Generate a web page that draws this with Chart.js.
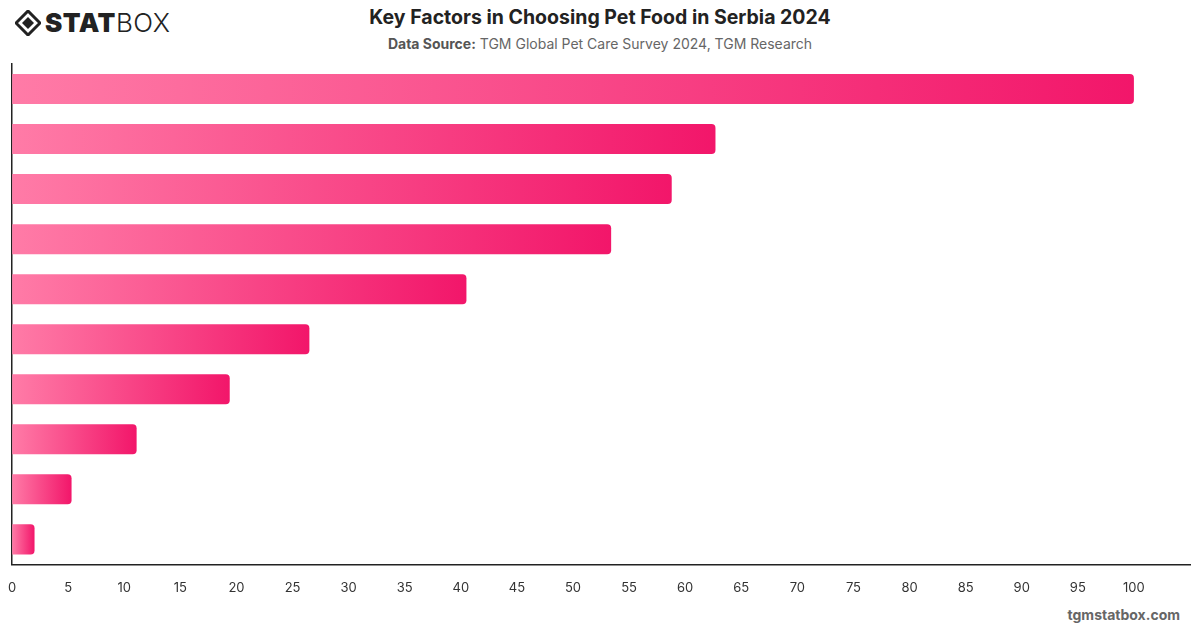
<!DOCTYPE html>
<html>
<head>
<meta charset="utf-8">
<script src="https://cdn.jsdelivr.net/npm/chart.js@4"></script>
<style>
  html, body { margin: 0; padding: 0; background: #fff; }
  body { width: 1200px; height: 628px; position: relative; overflow: hidden; font-family: Inter, "Noto Sans", sans-serif; }
  #grafico { position: absolute; left: 0; top: 0; }
  .logo { position: absolute; left: 15px; top: 7px; display: flex; align-items: center; color: #222; }
  .logo .stat { font-weight: 900; font-size: 26px; letter-spacing: 0.5px; margin-left: 4px; }
  .logo .box { font-weight: 300; font-size: 26px; letter-spacing: 0.5px; }
  .titulo { position: absolute; left: 0; width: 1200px; top: 5px; text-align: center; font-size: 19.5px; font-weight: 700; color: #222; }
  .fonte { position: absolute; left: 0; width: 1200px; top: 35px; text-align: center; font-size: 14px; color: #666; }
  .fonte b { color: #555; }
  .rodape { position: absolute; right: 20px; top: 606px; font-size: 14px; font-weight: 700; color: #666; }
</style>
</head>
<body>
<div class="logo">
  <svg width="26" height="26" viewBox="0 0 26 26">
    <path d="M13 1 L25 13 L13 25 L1 13 Z" fill="none" stroke="#222" stroke-width="3"/>
    <path d="M13 7 L19 13 L13 19 L7 13 Z" fill="#222"/>
  </svg>
  <span class="stat">STAT</span><span class="box">BOX</span>
</div>
<div class="titulo">Key Factors in Choosing Pet Food in Serbia 2024</div>
<div class="fonte"><b>Data Source:</b> TGM Global Pet Care Survey 2024, TGM Research</div>
<div class="rodape">tgmstatbox.com</div>
<canvas id="grafico" width="1200" height="628"></canvas>
<script>
// categorias (os nomes não aparecem no gráfico)
const fatores = ['Factor 1', 'Factor 2', 'Factor 3', 'Factor 4', 'Factor 5', 'Factor 6', 'Factor 7', 'Factor 8', 'Factor 9', 'Factor 10'];
const valores = [100, 62.7, 58.8, 53.4, 40.5, 26.5, 19.4, 11.1, 5.3, 2.0];
const ticksX = [0, 5, 10, 15, 20, 25, 30, 35, 40, 45, 50, 55, 60, 65, 70, 75, 80, 85, 90, 95, 100];

// gradiente por barra, do claro para o escuro
function corBarra(context) {
    const chart = context.chart;
    if (!chart.chartArea || !chart.scales.x || context.parsed === undefined) return '#f5407f';
    const escala = chart.scales.x;
    const x0 = escala.getPixelForValue(0);
    const x1 = escala.getPixelForValue(context.parsed.x);
    const g = chart.ctx.createLinearGradient(x0, 0, Math.max(x1, x0 + 1), 0);
    g.addColorStop(0, '#ff7ba7');
    g.addColorStop(1, '#f2166a');
    return g;
}

function criarGrafico() {
    const canvas = document.getElementById('grafico');
    const ctx = canvas.getContext('2d');

    new Chart(ctx, {
        type: 'bar',
        data: {
            labels: fatores,
            datasets: [{
                data: valores,
                backgroundColor: corBarra,
                borderRadius: 4,
                borderSkipped: 'start',
                barPercentage: 0.6,
                categoryPercentage: 1
            }]
        },
        options: {
            indexAxis: 'y',
            responsive: false,
            animation: false,
            layout: { padding: { top: 64, left: 0, right: 10, bottom: 24 } },
            plugins: {
                legend: { display: false },
                tooltip: { enabled: false }
            },
            scales: {
                x: {
                    min: 0,
                    max: 105,
                    afterBuildTicks: function (axis) {
                        axis.ticks = ticksX.map(v => ({ value: v }));
                    },
                    grid: { display: false },
                    border: { display: true, color: '#222', width: 1.5 },
                    ticks: {
                        color: '#333',
                        padding: 8,
                        font: { family: 'Inter', size: 13 }
                    }
                },
                y: {
                    grid: { display: false },
                    border: { display: true, color: '#222', width: 1.5 },
                    ticks: { display: false }
                }
            }
        }
    });
}

criarGrafico();
</script>
</body>
</html>
